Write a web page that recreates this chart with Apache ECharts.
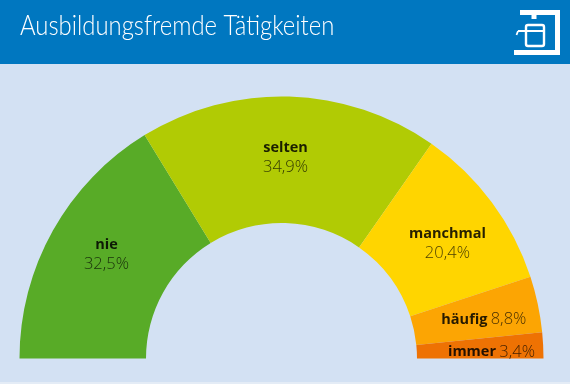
<!DOCTYPE html>
<html><head><meta charset="utf-8">
<style>html,body{margin:0;padding:0;background:#d3e1f3}#c{width:570px;height:384px}</style>
<script src="https://cdn.jsdelivr.net/npm/echarts@6/dist/echarts.min.js"></script>
</head><body><div id="c"></div>
<script>
const titleText = 'Ausbildungsfremde Tätigkeiten';
const categories = ['nie','selten','manchmal','häufig','immer'];
// Percentages as printed in the reference.
const printedLabels = ['32,5%','34,9%','20,4%','8,8%','3,4%'];
// Slice sizes as measured from the reference's drawn wedges: the source's geometry
// does not follow its printed numbers exactly (selten is drawn larger, häufig smaller).
const drawnShares = [32.5,36.9,20.5,6.9,3.2];
const colors = ['#58ab27','#b1cb04','#ffd500','#fca503','#ee7203'];
const inlineLabel = [false,false,false,true,true];
const labelShift = [[1,-5.5],[-2,1],[4,5.5],[5,3],[8.5,3.5]];

const chart = echarts.init(document.getElementById('c'),null,{renderer:'canvas'});
const W='#ffffff';
chart.setOption({
  animation:false,
  backgroundColor:'#d3e1f3',
  graphic:[
    {type:'rect',z:0,shape:{x:0,y:0,width:570,height:64},style:{fill:'#0077c0'}},
    {type:'rect',z:1,shape:{x:0,y:382,width:570,height:2},style:{fill:'#e4ecf6'}},
    {type:'text',z:2,x:20,y:13,scaleX:0.9,style:{text:titleText,fill:W,font:'300 26.5px Lato'}},
    {type:'polygon',z:1,shape:{points:[[520,10],[560,10],[560,55],[514,55],[514,50],[555,50],[555,15],[536.5,15],[536.5,19],[531.5,19],[531.5,15],[520,15]]},style:{fill:W}},
    {type:'rect',z:1,shape:{x:526,y:25,width:18,height:21,r:2},style:{stroke:W,lineWidth:2.4,fill:'none'}},
    {type:'rect',z:1,shape:{x:518,y:30,width:26,height:2},style:{fill:W}},
    {type:'polyline',z:1,shape:{points:[[518,31],[516.5,35]]},style:{stroke:W,lineWidth:1.8,fill:'none'}}
  ],
  series:[{
    type:'pie',
    center:[281.5,358.5],
    radius:[135.5,262],
    startAngle:180,endAngle:0,
    clockwise:true,
    silent:true,
    avoidLabelOverlap:false,
    itemStyle:{borderWidth:0},
    label:{show:true,position:'inside',formatter:p=>{
        const i=p.dataIndex;
        return '{b|'+categories[i]+'}'+(inlineLabel[i]?' ':'\n')+'{v|'+printedLabels[i]+'}';
      },
      rich:{
        b:{fontFamily:'"Open Sans"',fontWeight:700,fontSize:14.5,lineHeight:19,color:'rgba(0,0,0,0.85)'},
        v:{fontFamily:'"Open Sans"',fontWeight:300,fontSize:16.5,lineHeight:19,color:'rgba(0,0,0,0.72)'}
      }},
    labelLine:{show:false},
    data:categories.map((n,i)=>({name:n,value:drawnShares[i],
      itemStyle:{color:colors[i]},label:{offset:labelShift[i]}}))
  }]
});
</script></body></html>
